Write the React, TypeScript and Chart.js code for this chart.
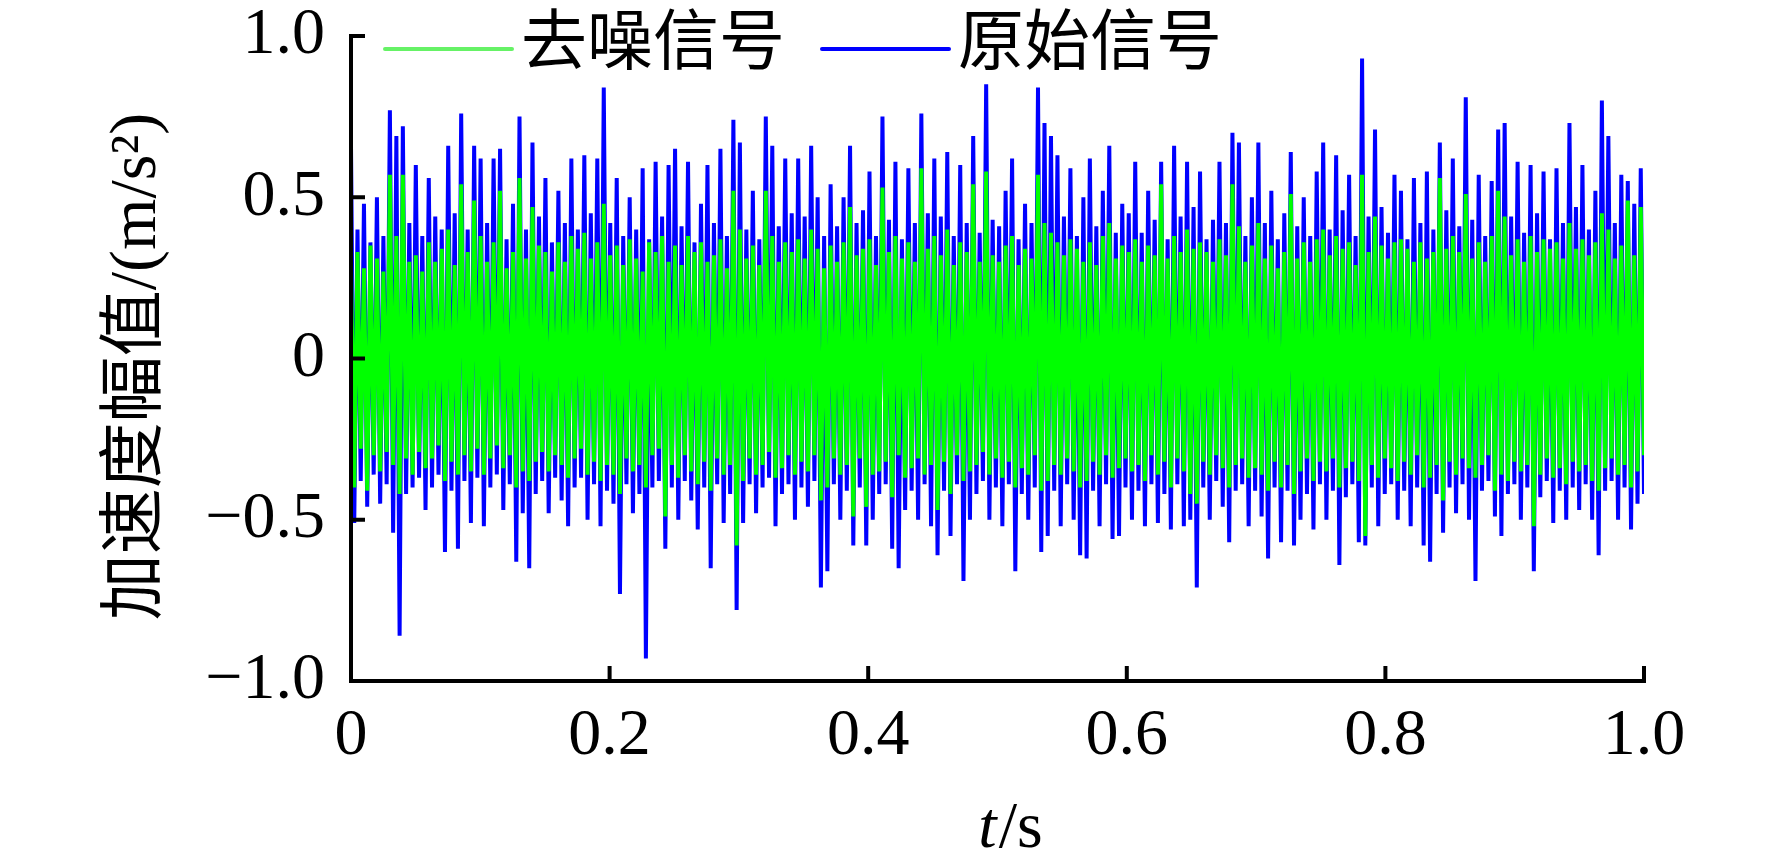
import React, { useRef, useEffect } from 'react';
import { Chart, registerables } from 'chart.js';

Chart.register(...registerables);

// Peak values, one high/low pair per 0.005 s
const blueHigh = [
  0.66, 0.40, 0.48, 0.36, 0.50, 0.38, 0.77, 0.69, 0.72, 0.42,
  0.60, 0.38, 0.56, 0.44, 0.40, 0.66, 0.45, 0.76, 0.40, 0.66,
  0.62, 0.42, 0.62, 0.65, 0.37, 0.48, 0.75, 0.40, 0.67, 0.44,
  0.56, 0.36, 0.52, 0.42, 0.62, 0.40, 0.63, 0.45, 0.62, 0.84,
  0.42, 0.56, 0.38, 0.50, 0.40, 0.59, 0.37, 0.61, 0.44, 0.60,
  0.65, 0.41, 0.61, 0.36, 0.48, 0.60, 0.42, 0.65, 0.38, 0.74,
  0.67, 0.40, 0.52, 0.37, 0.75, 0.66, 0.41, 0.62, 0.45, 0.62,
  0.44, 0.66, 0.50, 0.38, 0.54, 0.41, 0.50, 0.66, 0.42, 0.46,
  0.58, 0.38, 0.75, 0.43, 0.61, 0.37, 0.59, 0.42, 0.76, 0.45,
  0.62, 0.44, 0.64, 0.38, 0.60, 0.42, 0.69, 0.39, 0.85, 0.43,
  0.41, 0.52, 0.62, 0.37, 0.48, 0.42, 0.84, 0.73, 0.69, 0.63,
  0.44, 0.59, 0.38, 0.50, 0.62, 0.41, 0.52, 0.66, 0.39, 0.48,
  0.45, 0.61, 0.39, 0.52, 0.43, 0.61, 0.37, 0.66, 0.44, 0.61,
  0.47, 0.58, 0.37, 0.43, 0.61, 0.42, 0.70, 0.67, 0.38, 0.50,
  0.67, 0.42, 0.52, 0.37, 0.45, 0.64, 0.41, 0.50, 0.38, 0.58,
  0.67, 0.40, 0.63, 0.46, 0.57, 0.38, 0.93, 0.44, 0.71, 0.47,
  0.39, 0.57, 0.52, 0.37, 0.56, 0.42, 0.58, 0.40, 0.67, 0.46,
  0.62, 0.41, 0.81, 0.43, 0.57, 0.38, 0.55, 0.71, 0.73, 0.44,
  0.61, 0.39, 0.60, 0.45, 0.58, 0.37, 0.59, 0.42, 0.73, 0.47,
  0.60, 0.40, 0.52, 0.80, 0.69, 0.42, 0.57, 0.55, 0.48, 0.59,
];

const blueLow = [
  -0.51, -0.38, -0.46, -0.36, -0.45, -0.39, -0.54, -0.86, -0.42, -0.40,
  -0.37, -0.47, -0.40, -0.36, -0.60, -0.41, -0.59, -0.38, -0.51, -0.37,
  -0.52, -0.40, -0.36, -0.47, -0.39, -0.63, -0.48, -0.65, -0.42, -0.38,
  -0.48, -0.37, -0.44, -0.52, -0.40, -0.37, -0.50, -0.39, -0.52, -0.41,
  -0.45, -0.73, -0.39, -0.48, -0.42, -0.93, -0.40, -0.38, -0.59, -0.40,
  -0.50, -0.38, -0.44, -0.53, -0.40, -0.65, -0.39, -0.51, -0.42, -0.78,
  -0.51, -0.39, -0.48, -0.40, -0.37, -0.52, -0.42, -0.39, -0.50, -0.40,
  -0.46, -0.38, -0.71, -0.66, -0.39, -0.50, -0.41, -0.58, -0.40, -0.58,
  -0.50, -0.42, -0.39, -0.59, -0.65, -0.47, -0.41, -0.50, -0.39, -0.52,
  -0.61, -0.41, -0.55, -0.39, -0.69, -0.50, -0.42, -0.38, -0.50, -0.40,
  -0.52, -0.39, -0.66, -0.42, -0.50, -0.40, -0.60, -0.55, -0.41, -0.52,
  -0.39, -0.50, -0.61, -0.62, -0.41, -0.52, -0.39, -0.56, -0.55, -0.40,
  -0.50, -0.41, -0.52, -0.39, -0.51, -0.42, -0.53, -0.39, -0.52, -0.50,
  -0.71, -0.40, -0.50, -0.38, -0.46, -0.57, -0.41, -0.39, -0.52, -0.41,
  -0.49, -0.62, -0.40, -0.57, -0.41, -0.58, -0.50, -0.42, -0.53, -0.39,
  -0.50, -0.41, -0.64, -0.43, -0.39, -0.57, -0.58, -0.40, -0.52, -0.42,
  -0.39, -0.50, -0.41, -0.52, -0.40, -0.58, -0.63, -0.42, -0.54, -0.40,
  -0.48, -0.39, -0.50, -0.69, -0.41, -0.38, -0.49, -0.55, -0.42, -0.39,
  -0.50, -0.40, -0.66, -0.43, -0.38, -0.51, -0.41, -0.50, -0.40, -0.47,
  -0.39, -0.50, -0.61, -0.41, -0.38, -0.50, -0.40, -0.53, -0.45, -0.42,
];

const greenHigh = [
  0.30, 0.33, 0.28, 0.35, 0.31, 0.27, 0.57, 0.38, 0.57, 0.30,
  0.32, 0.27, 0.36, 0.30, 0.34, 0.40, 0.29, 0.54, 0.33, 0.49,
  0.38, 0.30, 0.36, 0.52, 0.28, 0.33, 0.56, 0.31, 0.47, 0.35,
  0.33, 0.27, 0.36, 0.30, 0.38, 0.34, 0.39, 0.31, 0.36, 0.48,
  0.32, 0.35, 0.29, 0.37, 0.31, 0.27, 0.36, 0.33, 0.38, 0.30,
  0.35, 0.29, 0.38, 0.33, 0.36, 0.30, 0.32, 0.37, 0.28, 0.52,
  0.40, 0.31, 0.35, 0.29, 0.52, 0.38, 0.30, 0.36, 0.33, 0.37,
  0.31, 0.40, 0.34, 0.28, 0.35, 0.30, 0.36, 0.47, 0.32, 0.34,
  0.37, 0.29, 0.53, 0.33, 0.38, 0.31, 0.36, 0.30, 0.59, 0.34,
  0.38, 0.32, 0.40, 0.29, 0.36, 0.33, 0.54, 0.30, 0.58, 0.32,
  0.30, 0.35, 0.38, 0.29, 0.34, 0.31, 0.57, 0.42, 0.39, 0.36,
  0.32, 0.37, 0.34, 0.30, 0.36, 0.29, 0.38, 0.42, 0.31, 0.35,
  0.33, 0.37, 0.30, 0.35, 0.32, 0.54, 0.31, 0.38, 0.33, 0.40,
  0.34, 0.36, 0.33, 0.30, 0.37, 0.32, 0.54, 0.41, 0.30, 0.35,
  0.42, 0.31, 0.35, 0.28, 0.33, 0.51, 0.31, 0.36, 0.30, 0.37,
  0.40, 0.32, 0.38, 0.34, 0.36, 0.29, 0.57, 0.33, 0.44, 0.35,
  0.31, 0.36, 0.37, 0.34, 0.30, 0.36, 0.31, 0.33, 0.56, 0.34,
  0.38, 0.33, 0.51, 0.31, 0.36, 0.30, 0.38, 0.52, 0.44, 0.32,
  0.37, 0.30, 0.38, 0.33, 0.37, 0.34, 0.36, 0.31, 0.42, 0.34,
  0.37, 0.32, 0.36, 0.45, 0.40, 0.31, 0.35, 0.49, 0.32, 0.47,
];

const greenLow = [
  -0.40, -0.28, -0.41, -0.30, -0.35, -0.29, -0.33, -0.42, -0.31, -0.36,
  -0.29, -0.34, -0.31, -0.27, -0.38, -0.32, -0.36, -0.30, -0.35, -0.28,
  -0.36, -0.31, -0.27, -0.34, -0.30, -0.40, -0.35, -0.38, -0.32, -0.29,
  -0.35, -0.30, -0.33, -0.37, -0.31, -0.28, -0.36, -0.32, -0.38, -0.33,
  -0.36, -0.42, -0.31, -0.35, -0.33, -0.40, -0.30, -0.28, -0.49, -0.33,
  -0.37, -0.30, -0.35, -0.39, -0.32, -0.41, -0.31, -0.36, -0.33, -0.58,
  -0.38, -0.31, -0.36, -0.33, -0.29, -0.37, -0.34, -0.30, -0.36, -0.32,
  -0.35, -0.30, -0.44, -0.40, -0.31, -0.36, -0.33, -0.49, -0.31, -0.46,
  -0.36, -0.35, -0.32, -0.43, -0.30, -0.37, -0.34, -0.31, -0.36, -0.33,
  -0.47, -0.32, -0.42, -0.30, -0.38, -0.35, -0.33, -0.29, -0.36, -0.31,
  -0.37, -0.32, -0.40, -0.34, -0.36, -0.30, -0.41, -0.38, -0.33, -0.36,
  -0.31, -0.35, -0.40, -0.38, -0.32, -0.36, -0.30, -0.37, -0.34, -0.31,
  -0.35, -0.33, -0.38, -0.30, -0.36, -0.32, -0.40, -0.31, -0.35, -0.42,
  -0.45, -0.32, -0.36, -0.30, -0.34, -0.40, -0.33, -0.31, -0.37, -0.34,
  -0.36, -0.41, -0.32, -0.40, -0.33, -0.42, -0.35, -0.31, -0.38, -0.32,
  -0.35, -0.31, -0.40, -0.34, -0.32, -0.38, -0.55, -0.33, -0.37, -0.31,
  -0.34, -0.38, -0.32, -0.36, -0.30, -0.40, -0.37, -0.33, -0.44, -0.32,
  -0.36, -0.31, -0.34, -0.37, -0.33, -0.30, -0.41, -0.36, -0.38, -0.32,
  -0.35, -0.33, -0.52, -0.36, -0.31, -0.37, -0.34, -0.39, -0.32, -0.35,
  -0.33, -0.38, -0.41, -0.34, -0.31, -0.36, -0.33, -0.40, -0.35, -0.30,
];

const xTicks = [0, 0.2, 0.4, 0.6, 0.8, 1.0];
const yTicks = [-1.0, -0.5, 0, 0.5, 1.0];

const SERIF = '"Liberation Serif", "Times New Roman", serif';
const MIXED = '"Liberation Serif", "Noto Sans CJK SC", serif';
const FONT_SIZE = 66;

// interleave high/low peaks into one trace over t = 0..1 s
const toTrace = (hi: number[], lo: number[]) => {
  const n = hi.length * 2 - 1;
  return hi.flatMap((h, i) => [
    { x: (2 * i) / n, y: h },
    { x: (2 * i + 1) / n, y: lo[i] },
  ]);
};

const fmt = (v: number, digits: number) => {
  if (v === 0) return '0';
  const s = Math.abs(v).toFixed(digits);
  return v < 0 ? '\u2212' + s : s;
};

const decorPlugin = {
  id: 'decor',
  afterDatasetsDraw(chart: any) {
    const { ctx, chartArea, scales } = chart;
    const { left, right, top, bottom } = chartArea;
    ctx.save();
    ctx.strokeStyle = '#000';
    ctx.lineWidth = 4;
    ctx.lineJoin = 'miter';
    ctx.beginPath();
    ctx.moveTo(left, top - 2);
    ctx.lineTo(left, bottom);
    ctx.lineTo(right + 2, bottom);
    // inward ticks
    yTicks.forEach((v) => {
      const py = scales.y.getPixelForValue(v);
      ctx.moveTo(left, py);
      ctx.lineTo(left + 14, py);
    });
    xTicks.forEach((v) => {
      const px = scales.x.getPixelForValue(v);
      ctx.moveTo(px, bottom);
      ctx.lineTo(px, bottom - 15);
    });
    ctx.stroke();
    ctx.restore();
  },
  afterDraw(chart: any) {
    const { ctx, chartArea } = chart;
    ctx.save();
    ctx.fillStyle = '#000';

    // legend
    const legendY = 49;
    const legendItems = [
      { x: 385, color: '#66f266' },
      { x: 822, color: '#0000ff' },
    ];
    chart.data.datasets.forEach((ds: any, i: number) => {
      const item = legendItems[i];
      ctx.strokeStyle = item.color;
      ctx.lineWidth = 4;
      ctx.lineCap = 'round';
      ctx.beginPath();
      ctx.moveTo(item.x, legendY);
      ctx.lineTo(item.x + 127, legendY);
      ctx.stroke();
      ctx.font = `${FONT_SIZE}px ${MIXED}`;
      ctx.textAlign = 'left';
      ctx.textBaseline = 'middle';
      ctx.fillText(ds.label, item.x + 136, legendY - 2);
    });

    // y title
    ctx.save();
    ctx.translate(138, (chartArea.top + chartArea.bottom) / 2 + 8);
    ctx.rotate(-Math.PI / 2);
    ctx.font = `${FONT_SIZE}px ${MIXED}`;
    ctx.textAlign = 'center';
    ctx.textBaseline = 'middle';
    ctx.fillText('加速度幅值/(m/s\u00b2)', 0, 0);
    ctx.restore();

    // x title: italic t + "/s"
    const cx = (chartArea.left + chartArea.right) / 2 + 12;
    const baseY = 847;
    ctx.textBaseline = 'alphabetic';
    ctx.textAlign = 'left';
    ctx.font = `italic ${FONT_SIZE}px ${SERIF}`;
    const tW = ctx.measureText('t').width;
    ctx.font = `${FONT_SIZE}px ${SERIF}`;
    const sW = ctx.measureText('/s').width;
    const startX = cx - (tW + sW) / 2;
    ctx.font = `italic ${FONT_SIZE}px ${SERIF}`;
    ctx.fillText('t', startX, baseY);
    ctx.font = `${FONT_SIZE}px ${SERIF}`;
    ctx.fillText('/s', startX + tW + 2, baseY);
    ctx.restore();
  },
};

const App: React.FC = () => {
  const canvasRef = useRef<HTMLCanvasElement>(null);
  const chartRef = useRef<Chart | null>(null);

  useEffect(() => {
    if (!canvasRef.current) return;
    if (chartRef.current) chartRef.current.destroy();

    const tickFont = { family: SERIF, size: FONT_SIZE };

    chartRef.current = new Chart(canvasRef.current, {
      type: 'line',
      data: {
        datasets: [
          {
            label: '去噪信号',
            data: toTrace(greenHigh, greenLow),
            borderColor: '#00ff00',
            borderWidth: 4,
            pointRadius: 0,
            tension: 0,
          },
          {
            label: '原始信号',
            data: toTrace(blueHigh, blueLow),
            borderColor: '#0000ff',
            borderWidth: 4,
            pointRadius: 0,
            tension: 0,
          },
        ],
      },
      options: {
        responsive: false,
        devicePixelRatio: 1,
        animation: false,
        parsing: false,
        normalized: true,
        layout: { padding: { left: 0, top: 36, right: 128, bottom: 0 } },
        plugins: {
          legend: { display: false },
          tooltip: { enabled: false },
        },
        scales: {
          x: {
            type: 'linear',
            min: 0,
            max: 1,
            afterFit: (scale: any) => {
              scale.height = 181;
            },
            afterBuildTicks: (scale: any) => {
              scale.ticks = xTicks.map((v) => ({ value: v }));
            },
            ticks: {
              font: tickFont,
              color: '#000',
              padding: 16,
              maxRotation: 0,
              callback: (v: any) => fmt(Number(v), 1),
            },
            grid: { display: false, drawTicks: false },
            border: { display: false },
          },
          y: {
            type: 'linear',
            min: -1,
            max: 1,
            afterFit: (scale: any) => {
              scale.width = 351;
              // keep the plot top at the 1.0 tick, labels may overhang
              scale.paddingTop = 0;
              scale.paddingBottom = 0;
            },
            afterBuildTicks: (scale: any) => {
              scale.ticks = yTicks.map((v) => ({ value: v }));
            },
            ticks: {
              font: tickFont,
              color: '#000',
              padding: 26,
              callback: (v: any) => fmt(Number(v), 1),
            },
            grid: { display: false, drawTicks: false },
            border: { display: false },
          },
        },
      },
      plugins: [decorPlugin],
    } as any);

    return () => {
      if (chartRef.current) {
        chartRef.current.destroy();
        chartRef.current = null;
      }
    };
  }, []);

  return (
    <div
      style={{
        position: 'absolute',
        left: 0,
        top: 0,
        width: 1772,
        height: 862,
        background: '#fff',
      }}
    >
      <canvas ref={canvasRef} width={1772} height={862} style={{ width: 1772, height: 862 }} />
    </div>
  );
};

export default App;
